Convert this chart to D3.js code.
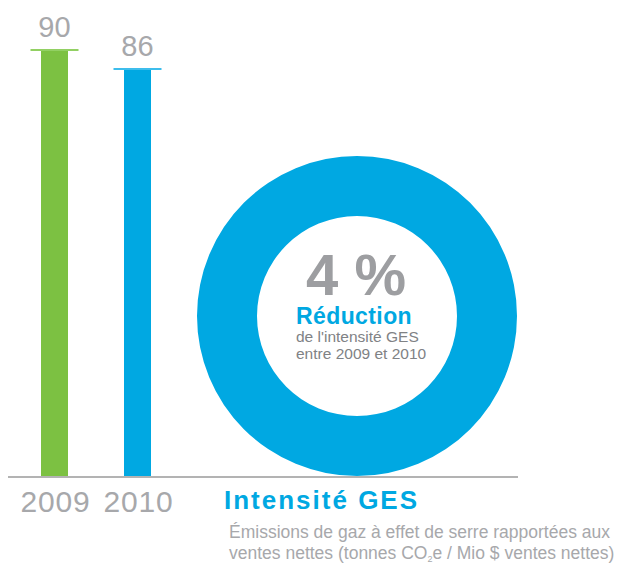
<!DOCTYPE html>
<html>
<head>
<meta charset="utf-8">
<script src="https://cdn.jsdelivr.net/npm/d3@7"></script>
<style>
  html, body { margin: 0; padding: 0; background: #fff; }
  svg { display: block; font-family: "Liberation Sans", Arial, Helvetica, sans-serif; }
</style>
</head>
<body>
<svg id="chart" width="625" height="564"></svg>
<script>
/* Intensité GES – bars 2009/2010 + reduction ring */

const YEARS = ["2009", "2010"];
const VALUES = [90, 86];
const BAR_COLORS = ["#7cc142", "#00a8e2"];
const CAP_COLORS = ["#92d063", "#3dbdec"];
const REDUCTION = ["4 %"];
const RING_LINES = ["de l'intensité GES", "entre 2009 et 2010"];
const TITLE = "Intensité GES";
const SUBTITLE = ["Émissions de gaz à effet de serre rapportées aux", "ventes nettes (tonnes CO", "e / Mio $ ventes nettes)"];

const GRAY = "#a7a8ab";
const BLUE = "#00a8e2";

const svg = d3.select("#chart");

const x = d3.scalePoint().domain(YEARS).range([54.5, 137.5]);
const y = d3.scaleLinear().domain([0, 90]).range([477, 50]);
const barW = 27;
const capW = 48;

// Bars
svg.selectAll("rect.bar")
  .data(YEARS)
  .join("rect")
  .attr("class", "bar")
  .attr("x", (d) => x(d) - barW / 2)
  .attr("y", (d, i) => y(VALUES[i]))
  .attr("width", barW)
  .attr("height", (d, i) => y(0) - y(VALUES[i]))
  .attr("fill", (d, i) => BAR_COLORS[i]);

// Cap lines
svg.selectAll("line.cap")
  .data(YEARS)
  .join("line")
  .attr("class", "cap")
  .attr("x1", (d) => x(d) - capW / 2)
  .attr("x2", (d) => x(d) + capW / 2)
  .attr("y1", (d, i) => y(VALUES[i]))
  .attr("y2", (d, i) => y(VALUES[i]))
  .attr("stroke", (d, i) => CAP_COLORS[i])
  .attr("stroke-width", 2);

// Value labels
svg.selectAll("text.val")
  .data(YEARS)
  .join("text")
  .attr("class", "val")
  .attr("x", (d) => x(d))
  .attr("y", (d, i) => y(VALUES[i]) - 13)
  .attr("text-anchor", "middle")
  .attr("font-size", 29)
  .attr("fill", GRAY)
  .text((d, i) => VALUES[i]);

// Ring
const cx = 357, cy = 316;
const arc = d3.arc().innerRadius(100).outerRadius(160);
const pie = d3.pie().sort(null);
svg.append("g")
  .attr("transform", `translate(${cx},${cy})`)
  .selectAll("path")
  .data(pie([1]))
  .join("path")
  .attr("d", arc)
  .attr("fill", BLUE);

// Baseline
svg.append("line")
  .attr("x1", 8).attr("x2", 518)
  .attr("y1", y(0)).attr("y2", y(0))
  .attr("stroke", "#b3b3b3")
  .attr("stroke-width", 2);

// Year labels
svg.selectAll("text.year")
  .data(YEARS)
  .join("text")
  .attr("class", "year")
  .attr("x", (d) => x(d) + 1)
  .attr("y", 512)
  .attr("text-anchor", "middle")
  .attr("font-size", 30)
  .attr("letter-spacing", 0.8)
  .attr("fill", GRAY)
  .text((d) => d);

// Ring text
const tx = 296;
svg.append("text")
  .attr("x", cx - 1).attr("y", 295)
  .attr("text-anchor", "middle")
  .attr("font-size", 58)
  .attr("font-weight", "bold")
  .attr("fill", "#9d9ea1")
  .text(REDUCTION[0]);

svg.append("text")
  .attr("x", tx).attr("y", 324)
  .attr("font-size", 23)
  .attr("letter-spacing", 0.4)
  .attr("font-weight", "bold")
  .attr("fill", BLUE)
  .text("Réduction");

svg.selectAll("text.ring")
  .data(RING_LINES)
  .join("text")
  .attr("class", "ring")
  .attr("x", tx)
  .attr("y", (d, i) => 342 + i * 16.5)
  .attr("font-size", 15.5)
  .attr("fill", "#808285")
  .text((d) => d);

// Title + subtitle
svg.append("text")
  .attr("x", 224).attr("y", 509)
  .attr("font-size", 26)
  .attr("letter-spacing", 2)
  .attr("font-weight", "bold")
  .attr("fill", BLUE)
  .text(TITLE);

svg.append("text")
  .attr("x", 229).attr("y", 538)
  .attr("font-size", 17.5)
  .attr("fill", GRAY)
  .text(SUBTITLE[0]);

const l2 = svg.append("text")
  .attr("x", 229).attr("y", 559)
  .attr("font-size", 17.5)
  .attr("fill", GRAY);
l2.append("tspan").text(SUBTITLE[1]);
l2.append("tspan").attr("font-size", 9).attr("dy", 3).text("2");
l2.append("tspan").attr("dy", -3).text(SUBTITLE[2]);
</script>
</body>
</html>
